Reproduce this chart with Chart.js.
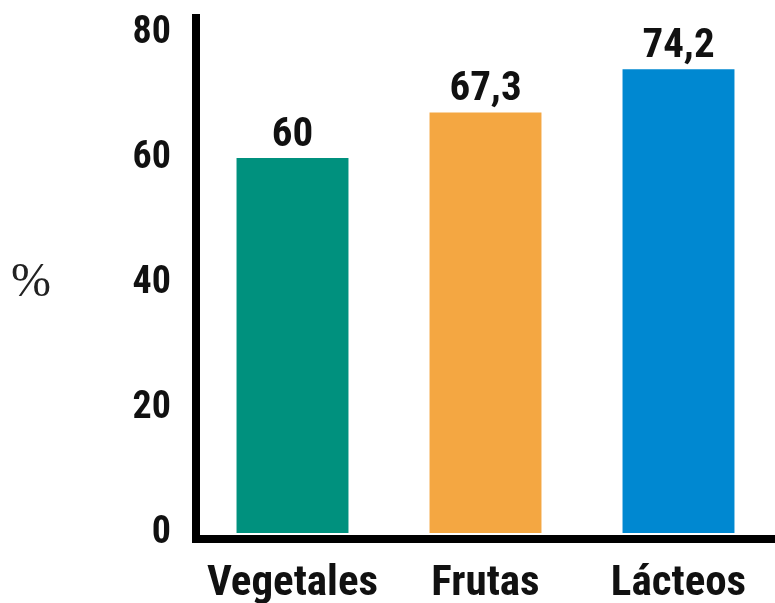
<!DOCTYPE html>
<html>
<head>
<meta charset="utf-8">
<script src="https://cdn.jsdelivr.net/npm/chart.js@4"></script>
<style>
  html, body { margin: 0; padding: 0; background: #fff; }
  #wrap { width: 775px; height: 603px; position: relative; }
</style>
</head>
<body>
<div id="wrap"><canvas id="barChart"></canvas></div>
<script>
// --- データ ---
const categories = ["Vegetales", "Frutas", "Lácteos"];
const values = [60, 67.3, 74.2];
const barColors = ["#00917e", "#f4a742", "#0088d1"];
const yTicks = [0, 20, 40, 60, 80];
const axisTitle = "%";

const condensed = "'Roboto Condensed', 'Liberation Sans Narrow', 'DejaVu Sans Condensed', sans-serif";

// 小数点はカンマ表記
function fmt(v) {
  return String(v).replace(".", ",");
}

// 棒の上の数値ラベル
const valueLabels = {
  id: "valueLabels",
  afterDatasetsDraw(chart) {
    const ctx = chart.ctx;
    const meta = chart.getDatasetMeta(0);
    ctx.save();
    ctx.font = "bold 41px " + condensed;
    ctx.fillStyle = "#111";
    ctx.textAlign = "center";
    ctx.textBaseline = "alphabetic";
    meta.data.forEach((bar, i) => {
      ctx.fillText(fmt(values[i]), bar.x, bar.y - 12);
    });
    ctx.restore();
  }
};

// 左側の「%」
const percentTitle = {
  id: "percentTitle",
  afterDraw(chart) {
    const ctx = chart.ctx;
    const y = chart.scales.y.getPixelForValue(40);
    ctx.save();
    ctx.font = "48px 'Liberation Serif', serif";
    ctx.fillStyle = "#222";
    ctx.textAlign = "center";
    ctx.textBaseline = "middle";
    ctx.fillText(axisTitle, 31, y);
    ctx.restore();
  }
};

const ctx = document.getElementById("barChart").getContext("2d");
new Chart(ctx, {
  type: "bar",
  data: {
    labels: categories,
    datasets: [{
      data: values,
      backgroundColor: barColors,
      borderWidth: 0,
      categoryPercentage: 1,
      barPercentage: 0.58
    }]
  },
  options: {
    animation: false,
    responsive: true,
    maintainAspectRatio: false,
    layout: { padding: { top: 18, right: 0, bottom: 0, left: 0 } },
    plugins: { legend: { display: false }, tooltip: { enabled: false } },
    scales: {
      x: {
        grid: { display: false, drawTicks: false },
        border: { display: true, color: "#000", width: 8 },
        ticks: {
          color: "#111",
          padding: 20,
          maxRotation: 0,
          minRotation: 0,
          autoSkip: false,
          font: { family: condensed, size: 43, weight: "bold" }
        },
        afterFit: s => {
          s.height = 64.5;
          s.paddingLeft = 0;
          s.paddingRight = 0;
        }
      },
      y: {
        min: -0.88,
        max: 82.4,
        grid: { display: false, drawTicks: false },
        border: { display: true, color: "#000", width: 8 },
        ticks: {
          color: "#111",
          padding: 25,
          font: { family: condensed, size: 38, weight: "bold" }
        },
        afterBuildTicks: s => { s.ticks = yTicks.map(v => ({ value: v })); },
        afterFit: s => {
          s.width = 196;
          s.paddingTop = 0;
          s.paddingBottom = 0;
        }
      }
    }
  },
  plugins: [valueLabels, percentTitle]
});
</script>
</body>
</html>
